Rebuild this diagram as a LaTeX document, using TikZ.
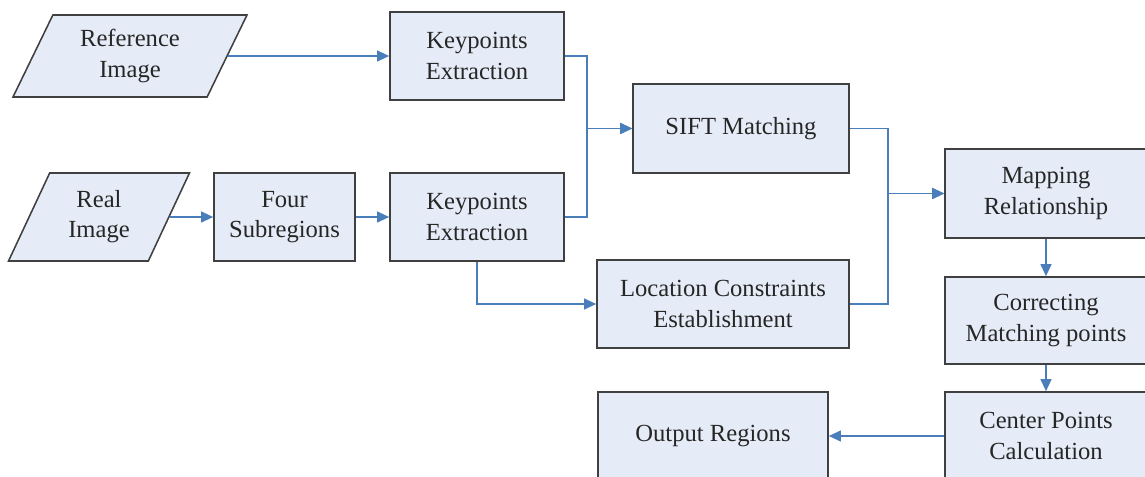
\documentclass[tikz,border=0pt]{standalone}
\usepackage{fontspec}
\setmainfont{Liberation Serif}
\usetikzlibrary{shapes.geometric, arrows.meta}
\definecolor{boxFill}{HTML}{E6ECF7}
\definecolor{boxLine}{HTML}{404040}
\definecolor{linkBlue}{HTML}{4A7EBB}
\tikzset{
    stage/.style={draw=boxLine, fill=boxFill, line width=1.1pt, align=center,
        text=black!85, font=\fontsize{17.5}{21.5}\selectfont, inner sep=0pt},
    inputdata/.style={stage, trapezium, trapezium left angle=64, trapezium right angle=116,
        trapezium stretches=true},
    link/.style={draw=linkBlue, line width=1.2pt, -{Triangle[length=3mm,width=2.7mm]}}
}

\begin{document}
\begin{tikzpicture}[x=0.025cm, y=-0.025cm]
        \clip (0,0) rectangle (1145,477);
        % inputs
        \node[inputdata, minimum width=5.85cm, minimum height=2.05cm] (ref) at (130,56) {Reference\\Image};
        \node[inputdata, minimum width=4.55cm, minimum height=2.2cm] (real) at (99,217) {Real\\Image};
        % processing boxes
        \node[stage, minimum width=4.35cm, minimum height=2.2cm] (ke1) at (477,56) {Keypoints\\Extraction};
        \node[stage, minimum width=3.525cm, minimum height=2.2cm] (four) at (284.5,217) {Four\\Subregions};
        \node[stage, minimum width=4.35cm, minimum height=2.2cm] (ke2) at (477,217) {Keypoints\\Extraction};
        \node[stage, minimum width=5.4cm, minimum height=2.225cm] (sift) at (741,128.5) {SIFT Matching};
        \node[stage, minimum width=6.3cm, minimum height=2.2cm] (loc) at (723,304) {Location Constraints\\Establishment};
        \node[stage, minimum width=5.05cm, minimum height=2.225cm] (map) at (1046,193.5) {Mapping\\Relationship};
        \node[stage, minimum width=5.05cm, minimum height=2.175cm] (corr) at (1046,320.5) {Correcting\\Matching points};
        \node[stage, minimum width=5.05cm, minimum height=2.2cm] (cent) at (1046,436) {Center Points\\Calculation};
        \node[stage, minimum width=5.75cm, minimum height=2.2cm] (out) at (713,436) {Output Regions};
        % connectors
        \draw[link] (ref) -- (ke1);
        \draw[link] (real) -- (four);
        \draw[link] (four) -- (ke2);
        \draw[link] (ke1.east) -- ++(22,0) |- (sift.west);
        \draw[link] (ke2.east) -- ++(22,0) |- (sift.west);
        \draw[link] (ke2.south) |- (loc.west);
        \draw[link] (sift.east) -- ++(38,0) |- (map.west);
        \draw[link] (loc.east) -- ++(38,0) |- (map.west);
        \draw[link] (map) -- (corr);
        \draw[link] (corr) -- (cent);
        \draw[link] (cent) -- (out);
    \end{tikzpicture}
\end{document}
